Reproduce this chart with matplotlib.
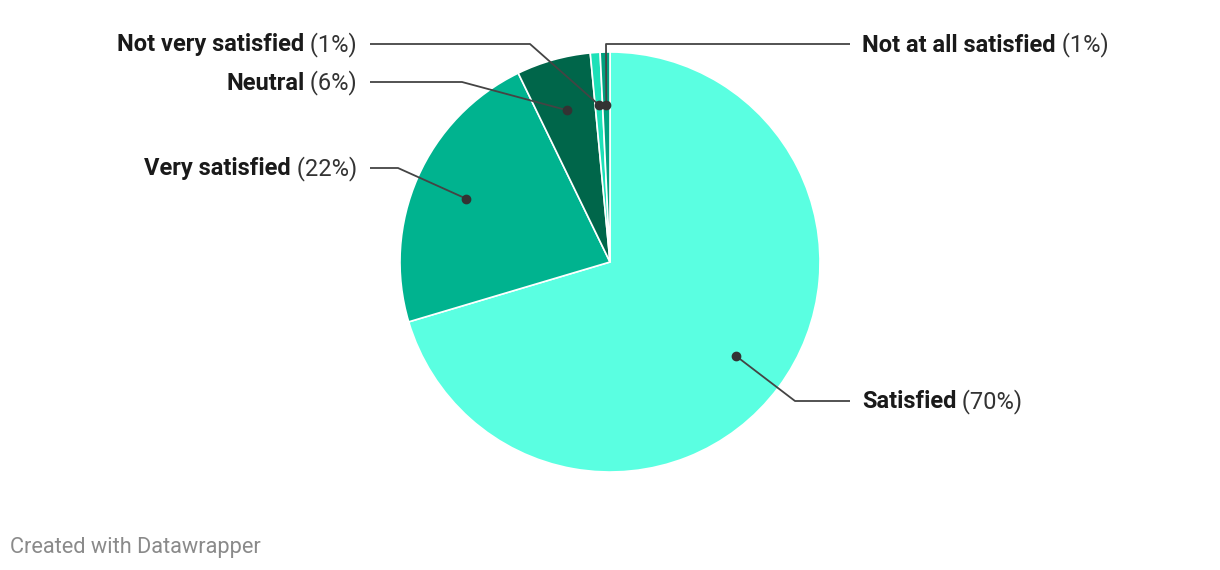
import numpy as np
import matplotlib.pyplot as plt

plt.rcParams['font.family'] = ['Roboto', 'DejaVu Sans']

# data, clockwise from 12 o'clock
labels = ['Satisfied', 'Very satisfied', 'Neutral', 'Not very satisfied', 'Not at all satisfied']
values = [70.4, 22.4, 5.7, 0.75, 0.75]
colors = ['#5affe1', '#00b38f', '#00664a', '#1de1b8', '#00a07e']

W, H = 1220, 570
cx, cy, R = 610, H - 262, 210

fig = plt.figure(figsize=(W / 100, H / 100), dpi=100)
ax = fig.add_axes([0, 0, 1, 1])

ax.pie(values, colors=colors, startangle=90, counterclock=False,
       center=(cx, cy), radius=R, frame=True,
       wedgeprops=dict(edgecolor='white', linewidth=1.2))
ax.set_xlim(0, W)
ax.set_ylim(0, H)
ax.set_aspect('equal')
ax.axis('off')

# label layout: (elbow x, label y in px from top, side)
layout = [(795, 401, 'right'), (398, 168, 'left'), (462, 82, 'left'),
          (530, 44, 'left'), (606, 44, 'right')]

fs = 17
total = sum(values)
cum = 0
for lab, v, (ex, ly, side) in zip(labels, values, layout):
    mid = (cum + v / 2) / total * 2 * np.pi
    cum += v
    dx = cx + 0.75 * R * np.sin(mid)
    dy = cy + 0.75 * R * np.cos(mid)
    ly = H - ly
    if side == 'right':
        lx_end, tx = 850, 862
    else:
        lx_end, tx = 370, 357
    ax.plot([dx, ex, lx_end], [dy, ly, ly], color='#444444', lw=1.3,
            solid_capstyle='butt', zorder=5)
    ax.plot(dx, dy, 'o', color='#333333', ms=6, zorder=6)
    pct = f' ({round(v):.0f}%)'
    ty = ly - 1
    if side == 'right':
        t = ax.text(tx, ty, lab, fontsize=fs, fontweight='bold', color='#1a1a1a',
                    ha='left', va='center')
        ax.annotate(pct, xycoords=t, xy=(1, 0.5), va='center', ha='left',
                    fontsize=fs, color='#333333')
    else:
        t = ax.text(tx, ty, pct, fontsize=fs, color='#333333', ha='right', va='center')
        ax.annotate(lab, xycoords=t, xy=(0, 0.5), va='center', ha='right',
                    fontsize=fs, fontweight='bold', color='#1a1a1a')

ax.text(10, H - 547, 'Created with Datawrapper', fontsize=15.7, color='#8a8a8a',
        ha='left', va='center')

fig.savefig('out.png', dpi=100, facecolor='white')
